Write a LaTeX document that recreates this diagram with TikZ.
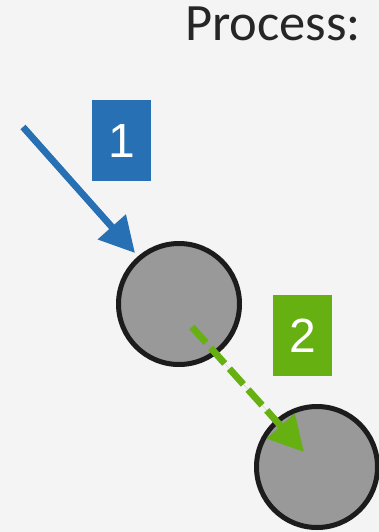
\documentclass[tikz,border=0pt]{standalone}
\usepackage{fontspec}
\setmainfont{Carlito}
\newfontfamily\digitfont{Liberation Sans}
\usetikzlibrary{arrows.meta}
\definecolor{bgcol}{HTML}{F4F4F4}
\definecolor{stepblue}{HTML}{2770B3}
\definecolor{stepgreen}{HTML}{66B012}
\definecolor{ballfill}{HTML}{999999}
\definecolor{ballline}{HTML}{1C1C1C}
\definecolor{titlecol}{HTML}{262626}
\tikzset{
  ball/.style={circle, draw=ballline, fill=ballfill, line width=5pt,
    minimum size=121pt, inner sep=0pt},
  stepbadge/.style={minimum width=59pt, minimum height=81pt, inner sep=0pt,
    text=white, font=\digitfont\fontsize{48}{48}\selectfont},
  flow/.style={line width=6.8pt,
    -{Triangle[length=35pt,width=36pt]}},
}
\begin{document}
\begin{tikzpicture}[x=1pt,y=-1pt]
  \fill[bgcol] (0,0) rectangle (379,532);
  \useasboundingbox (0,0) rectangle (379,532);

  \node[anchor=base west, inner sep=0pt, text=titlecol,
        font=\fontsize{52.5}{52.5}\selectfont] (title) at (185,41) {Process:};

  \node[ball] (b1) at (179,304) {};
  \node[ball] (b2) at (317,467) {};

  \node[stepbadge, fill=stepblue] (n1) at (121.5,140.5) {1};
  \node[stepbadge, fill=stepgreen] (n2) at (302.5,335.5) {2};

  \coordinate (in) at (23,127);
  \coordinate (inend) at (135,253);
  \coordinate (mid1) at (192,327);
  \coordinate (mid2) at (304,452);

  \draw[flow, draw=stepblue, fill=stepblue] (in) -- (inend);
  \draw[flow, draw=stepgreen, fill=stepgreen, dash pattern=on 21pt off 7pt] (mid1) -- (mid2);
\end{tikzpicture}
\end{document}
